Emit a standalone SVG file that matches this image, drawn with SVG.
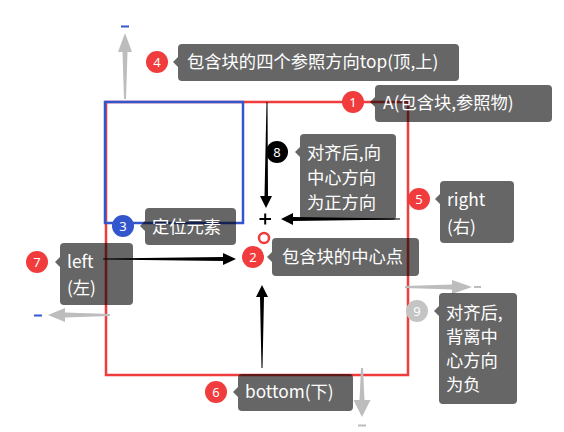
<svg xmlns="http://www.w3.org/2000/svg" width="564" height="432" viewBox="0 0 564 432">
<style>
.tip{fill:rgba(0,0,0,0.6)}
.t{font-family:"Noto Sans CJK SC","Noto Sans",sans-serif;font-size:17.3px;fill:#fff}
.n{font-family:"Noto Sans","Noto Sans CJK SC",sans-serif;font-size:13px;fill:#fff;text-anchor:middle}
.gray{fill:#bdbdbd}
.blk{fill:#000}
</style>
<rect width="564" height="432" fill="#fff"/>
<g id="containing-block"><rect x="106" y="102" width="302" height="273" fill="none" stroke="#f03c3c" stroke-width="2.5"/></g>
<g id="positioned-element"><rect x="105" y="102" width="138" height="121" fill="none" stroke="#3456cc" stroke-width="2.5"/></g>
<g id="center">
<path d="M259.5 219H271M265.2 213.5V224.5" stroke="#000" stroke-width="2"/>
<circle cx="264" cy="238" r="5" fill="#fff" stroke="#f03c3c" stroke-width="2.5"/>
</g>
<g id="connectors">
<polygon class="gray" points="124,99 126,99 127.5,52 132,52 125,33 118,52 122.5,52"/>
<path d="M121 26.5H129" stroke="#3456cc" stroke-width="2"/>
<polygon class="gray" points="110,314 110,316 65,317.5 65,322 48,315 65,308 65,312.5"/>
<path d="M34 315.5H42" stroke="#3456cc" stroke-width="2"/>
<polygon class="gray" points="405,286 405,288 452,289.5 452,294 472,287 452,280 452,284.5"/>
<path d="M474 287H481" stroke="#bdbdbd" stroke-width="2"/>
<polygon class="gray" points="361,368 363,368 364.5,400 370.5,400 362,417 353.5,400 359.5,400"/>
<path d="M358 425.5H366" stroke="#bdbdbd" stroke-width="2"/>
<polygon class="blk" points="266.5,102 267.5,102 268,196 272,196 266,208 260,196 264.5,196"/>
<polygon class="blk" points="400,218.5 400,219.5 293,221 293,225 281,219 293,213 293,217"/>
<polygon class="blk" points="103,258.5 103,259.5 223,261 223,265 236,259 223,253 223,257"/>
<polygon class="blk" points="261.5,368 262.5,368 264,297 268,297 262,285 256,297 260,297"/>
</g>
<g id="label-4">
<circle cx="157" cy="62" r="11" fill="#f03c3c"/><text class="n" x="157" y="66.5">4</text>
<polygon class="tip" points="173,62 178,57 178,67"/>
<rect class="tip" x="178" y="44" width="281" height="37" rx="4"/>
<text class="t" x="187" y="68">包含块的四个参照方向top(顶,上)</text>
</g>
<g id="label-1">
<circle cx="353" cy="102" r="11" fill="#f03c3c"/><text class="n" x="353" y="106.5">1</text>
<polygon class="tip" points="370,102 375,97 375,107"/>
<rect class="tip" x="375" y="85" width="177" height="37" rx="4"/>
<text class="t" x="383" y="109">A(包含块,参照物)</text>
</g>
<g id="label-8">
<circle cx="277" cy="152" r="11" fill="#000"/><text class="n" x="277" y="156.5">8</text>
<polygon class="tip" points="295,152 300,147 300,157"/>
<rect class="tip" x="300" y="134" width="96" height="86" rx="4"/>
<text class="t" x="307" y="159">对齐后,向</text>
<text class="t" x="307" y="184">中心方向</text>
<text class="t" x="307" y="209">为正方向</text>
</g>
<g id="label-3">
<circle cx="123" cy="226" r="11" fill="#3456cc"/><text class="n" x="123" y="230.5">3</text>
<polygon class="tip" points="140,226 145,221 145,231"/>
<rect class="tip" x="145" y="208" width="91" height="37" rx="4"/>
<text class="t" x="152" y="233">定位元素</text>
</g>
<g id="label-7">
<circle cx="37" cy="262" r="11" fill="#f03c3c"/><text class="n" x="37" y="266.5">7</text>
<polygon class="tip" points="55,262 60,257 60,267"/>
<rect class="tip" x="60" y="243" width="73" height="62" rx="4"/>
<text class="t" x="67" y="268">left</text>
<text class="t" x="67" y="294">(左)</text>
</g>
<g id="label-2">
<circle cx="253" cy="257" r="11" fill="#f03c3c"/><text class="n" x="253" y="261.5">2</text>
<polygon class="tip" points="267,257 272,252 272,262"/>
<rect class="tip" x="272" y="238" width="147" height="38" rx="4"/>
<text class="t" x="282" y="263">包含块的中心点</text>
</g>
<g id="label-5">
<circle cx="419" cy="199" r="11" fill="#f03c3c"/><text class="n" x="419" y="203.5">5</text>
<polygon class="tip" points="435,199 440,194 440,204"/>
<rect class="tip" x="440" y="181" width="74" height="62" rx="4"/>
<text class="t" x="447" y="206">right</text>
<text class="t" x="447" y="233">(右)</text>
</g>
<g id="label-9">
<circle cx="417" cy="311" r="11" fill="#c4c4c4"/><text class="n" x="417" y="315.5">9</text>
<polygon class="tip" points="434,311 439,306 439,316"/>
<rect class="tip" x="439" y="293" width="78" height="111" rx="4"/>
<text class="t" x="446" y="319">对齐后,</text>
<text class="t" x="446" y="343">背离中</text>
<text class="t" x="446" y="367">心方向</text>
<text class="t" x="446" y="391">为负</text>
</g>
<g id="label-6">
<circle cx="216" cy="392" r="11" fill="#f03c3c"/><text class="n" x="216" y="396.5">6</text>
<polygon class="tip" points="233,392 238,387 238,397"/>
<rect class="tip" x="238" y="374" width="115" height="37" rx="4"/>
<text class="t" x="245" y="398">bottom(下)</text>
</g>
</svg>
